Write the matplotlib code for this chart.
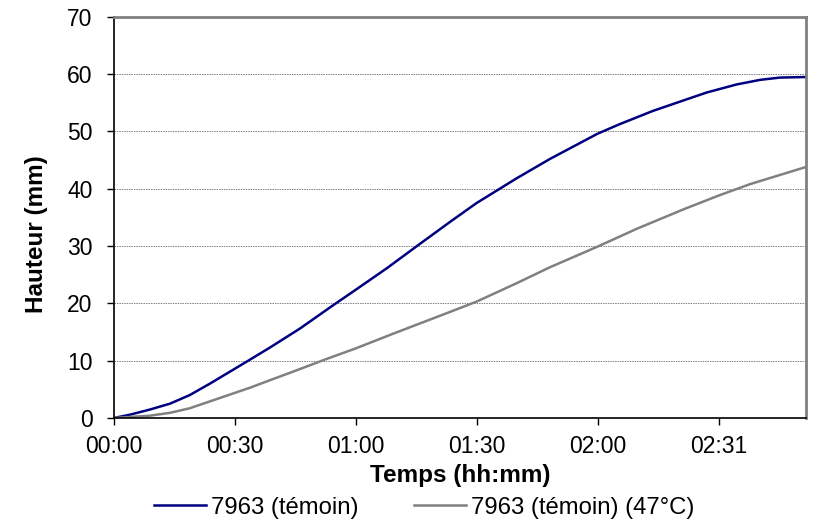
import matplotlib
matplotlib.use("Agg")
import matplotlib.pyplot as plt

plt.rcParams['font.family'] = ['Liberation Sans', 'DejaVu Sans']

# elapsed time (minutes) and height (mm) for both runs
t_temoin = [0, 4, 8.9, 13.9, 18.8, 23.8, 28.8, 33.3, 38.7, 46.1, 54.4, 59.8,
            67.6, 75.9, 83.3, 89.9, 99.8, 108.1, 119.9, 125.5, 133.7, 142,
            147, 154.4, 160.2, 165.1, 171.6]
h_temoin = [0, 0.58, 1.47, 2.5, 4.0, 6.0, 8.1, 10, 12.3, 15.6, 19.7, 22.3,
            26.1, 30.4, 34.2, 37.5, 41.8, 45.2, 49.6, 51.3, 53.6, 55.6,
            56.8, 58.2, 59.0, 59.4, 59.5]

t_47 = [0, 8.9, 13.9, 18.8, 23.8, 28.8, 33.8, 38.7, 43.7, 48.6, 52.7, 59.8,
        69.2, 83.3, 89.9, 99.8, 108.1, 119.9, 129.6, 141.2, 149.9, 157.7, 171.6]
h_47 = [0, 0.4, 0.9, 1.7, 2.9, 4.1, 5.3, 6.6, 7.9, 9.2, 10.3, 12.1,
        14.7, 18.5, 20.3, 23.5, 26.3, 29.9, 33.0, 36.4, 38.8, 40.8, 43.8]

tick_pos = [0, 30, 60, 90, 120, 150]
tick_labels = ['00:00', '00:30', '01:00', '01:30', '02:00', '02:31']

fig = plt.figure(figsize=(8.17, 5.23), dpi=100)
ax = fig.add_axes([0.1395, 0.2008, 0.847, 0.767])

ax.plot(t_temoin, h_temoin, color='#000080', lw=1.8, label='7963 (témoin)')
ax.plot(t_47, h_47, color='#808080', lw=1.8, label='7963 (témoin) (47°C)')

ax.set_xlim(0, 171.6)
ax.set_ylim(0, 70)
ax.set_yticks(range(0, 71, 10))
ax.set_xticks(tick_pos)
ax.set_xticklabels(tick_labels)
ax.tick_params(labelsize=16.5, length=5, width=1, direction='out')
ax.tick_params(axis='y', pad=10.5)
ax.tick_params(axis='x', pad=7)
ax.yaxis.grid(True, color='#808080', ls=(0, (1.5, 1)), lw=0.7)
ax.set_axisbelow(True)

for s in ['left', 'bottom']:
    ax.spines[s].set_color('black')
    ax.spines[s].set_linewidth(1.2)
for s in ['top', 'right']:
    ax.spines[s].set_color('#808080')
    ax.spines[s].set_linewidth(2)

ax.set_xlabel('Temps (hh:mm)', fontsize=17.5, fontweight='bold', va='baseline')
ax.xaxis.set_label_coords(0.5, -0.1596)
ax.set_ylabel('Hauteur (mm)', fontsize=17.5, fontweight='bold', va='baseline')
ax.yaxis.set_label_coords(-0.1026, 0.4576)

fig.legend(loc='center', bbox_to_anchor=(0.519, 0.029), ncol=2,
           frameon=False, fontsize=17.2, handlelength=2.2, columnspacing=2.3,
           handletextpad=0.2, borderpad=0)

fig.savefig('out.png', dpi=100)
